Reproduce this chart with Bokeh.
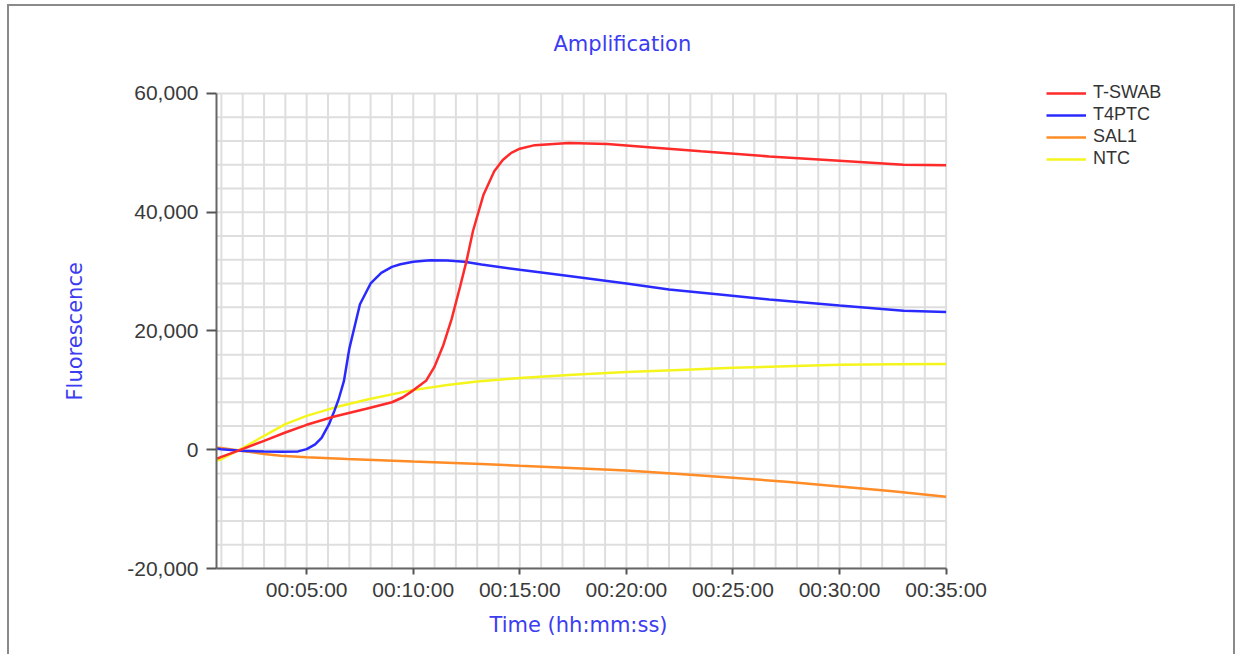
from bokeh.plotting import figure
from bokeh.models import FixedTicker, Legend, LegendItem, NumeralTickFormatter, Title
from bokeh.embed import file_html
from bokeh.resources import INLINE

# ---- data (time in minutes, fluorescence units) ----
tswab_t = [0.8, 1.0, 1.8, 3.0, 4.0, 5.0, 6.3, 7.8, 9.0, 9.5, 10.0, 10.6, 11.0, 11.4,
           11.8, 12.2, 12.5, 12.8, 13.3, 13.8, 14.2, 14.6, 15.0, 15.7, 17.3, 19.1,
           21.2, 23.5, 26.7, 29.8, 33.0, 35.0]
tswab_v = [-1500, -1200, -150, 1500, 2900, 4200, 5600, 6900, 8000, 8800, 10000, 11600,
           14000, 17500, 22000, 27500, 31800, 36800, 43000, 46900, 48800, 50000, 50700,
           51300, 51650, 51500, 50900, 50250, 49400, 48700, 48000, 47900]

t4ptc_t = [0.8, 1.0, 1.9, 3.0, 3.8, 4.6, 5.0, 5.4, 5.7, 6.05, 6.3, 6.5, 6.75, 7.0, 7.5,
           8.0, 8.5, 9.0, 9.4, 10.0, 10.8, 11.6, 12.4, 13.2, 15.0, 17.3, 20.0, 22.0,
           24.5, 26.7, 30.0, 33.0, 35.0]
t4ptc_v = [200, 100, -170, -300, -340, -280, 100, 900, 2000, 4300, 6550, 8500, 11600,
           17000, 24500, 28000, 29800, 30800, 31250, 31650, 31900, 31850, 31650, 31200,
           30300, 29250, 28000, 27000, 26100, 25300, 24300, 23400, 23200]

sal1_t = [0.8, 1.0, 1.9, 3.0, 3.8, 5.0, 6.9, 10.0, 13.2, 15.0, 17.9, 20.0, 22.5, 25.0,
          27.5, 30.0, 32.5, 35.0]
sal1_v = [350, 280, -170, -700, -1000, -1250, -1570, -2000, -2400, -2700, -3140, -3500,
          -4100, -4700, -5400, -6200, -7000, -7900]

ntc_t = [0.8, 1.0, 1.75, 2.5, 3.0, 4.0, 5.0, 6.3, 7.9, 9.9, 11.6, 13.0, 15.0, 17.5,
         20.0, 22.5, 25.0, 27.5, 30.0, 32.5, 35.0]
ntc_v = [-1800, -1600, -170, 1300, 2350, 4300, 5700, 7100, 8500, 10000, 10900, 11500,
         12100, 12650, 13100, 13450, 13800, 14050, 14300, 14400, 14450]

series_names = ["T-SWAB", "T4PTC", "SAL1", "NTC"]
series_colors = ["#ff2a2a", "#2a2aff", "#ff8c26", "#f5f51e"]

x_ticks = [5, 10, 15, 20, 25, 30, 35]
x_tick_labels = ["00:05:00", "00:10:00", "00:15:00", "00:20:00", "00:25:00",
                 "00:30:00", "00:35:00"]
x_minor = list(range(1, 36))
y_ticks = [-20000, 0, 20000, 40000, 60000]
y_minor = list(range(-20000, 60001, 4000))
x_bounds = (0.77, 35)
y_bounds = (-20000, 60000)

TITLE_BLUE = "#3c3cf0"
GRID = "#dedede"
LABEL_FONT = "DejaVu Sans"

# frame extends right/up (beyond the axis bounds) so the legend can sit there
p = figure(width=1228, height=650, output_backend="svg", toolbar_location=None,
           x_range=(0.77, 48.2), y_range=(-20000, 62521),
           min_border_left=207, min_border_right=10, min_border_top=71,
           min_border_bottom=88, background_fill_color="white",
           border_fill_color="white")
p.outline_line_color = None
p.grid.visible = False
p.styles = {"border-top": "2px solid #8a8a8a", "border-left": "2px solid #8a8a8a",
            "border-right": "2px solid #8a8a8a", "margin-left": "7px",
            "margin-top": "4px"}

# title
p.title.text = "Amplification"
p.title.align = "left"
p.title.offset = 337
p.title.standoff = 46
p.title.text_font = LABEL_FONT
p.title.text_font_size = "21px"
p.title.text_font_style = "normal"
p.title.text_color = TITLE_BLUE

# ticks
p.xaxis.ticker = FixedTicker(ticks=x_ticks, minor_ticks=x_minor)
p.xaxis.major_label_overrides = dict(zip(x_ticks, x_tick_labels))
p.xaxis.bounds = x_bounds
p.yaxis.ticker = FixedTicker(ticks=y_ticks, minor_ticks=y_minor)
p.yaxis.formatter = NumeralTickFormatter(format="0,0")
p.yaxis.bounds = y_bounds

for ax in (p.xaxis[0], p.yaxis[0]):
    ax.axis_line_color = "#666666"
    ax.axis_line_width = 2
    ax.major_tick_line_color = "#555555"
    ax.major_tick_line_width = 2
    ax.major_tick_in = 0
    ax.minor_tick_line_color = None
    ax.major_label_text_font = "Liberation Sans"
    ax.major_label_text_font_size = "21px"
    ax.major_label_text_color = "#3a3a3a"

p.xaxis.major_tick_out = 6
p.xaxis.major_label_standoff = 3
p.yaxis.major_tick_out = 10
p.yaxis.major_label_standoff = 8

# axis titles, placed relative to the axis bounds rather than the extended frame
xlab = Title(text="Time (hh:mm:ss)", align="left", offset=273, standoff=18,
             vertical_align="top", text_font=LABEL_FONT, text_font_size="21px",
             text_font_style="normal", text_color=TITLE_BLUE)
p.add_layout(xlab, "below")
ylab = Title(text="Fluorescence", align="left", offset=168, standoff=76,
             vertical_align="bottom", text_font=LABEL_FONT, text_font_size="21px",
             text_font_style="normal", text_color=TITLE_BLUE)
p.add_layout(ylab, "left")

# grid limited to the axis bounds
p.segment(x0=x_minor, x1=x_minor, y0=[y_bounds[0]] * len(x_minor),
          y1=[y_bounds[1]] * len(x_minor), line_color=GRID, line_width=2)
p.segment(x0=[x_bounds[0]] * len(y_minor), x1=[x_bounds[1]] * len(y_minor),
          y0=y_minor, y1=y_minor, line_color=GRID, line_width=2)

xs = [tswab_t, t4ptc_t, sal1_t, ntc_t]
ys = [tswab_v, t4ptc_v, sal1_v, ntc_v]
# draw order: orange, yellow, blue, red on top
order = [2, 3, 1, 0]
rmap = {}
for i in order:
    rmap[i] = p.line(xs[i], ys[i], line_color=series_colors[i], line_width=2.5)

items = [LegendItem(label=series_names[i], renderers=[rmap[i]]) for i in range(4)]
legend = Legend(items=items, location=(830, 399), border_line_color=None,
                background_fill_alpha=0, padding=0, margin=0, spacing=1,
                glyph_width=40, glyph_height=20, label_height=20, label_standoff=7,
                label_text_font="Liberation Sans", label_text_font_size="18px",
                label_text_color="#333333")
p.add_layout(legend)

open("out.html", "w").write(file_html(p, INLINE))
